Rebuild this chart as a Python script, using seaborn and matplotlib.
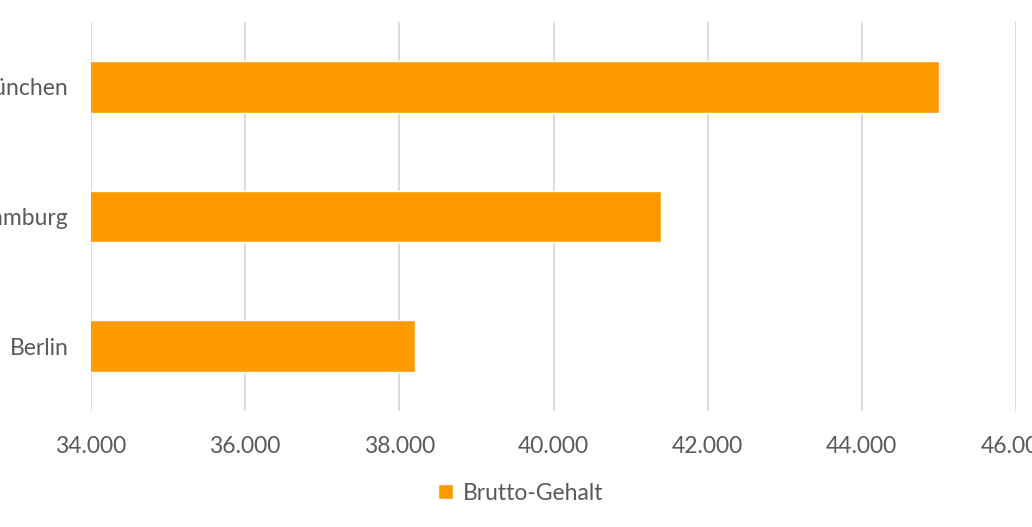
import matplotlib
matplotlib.use("Agg")
import matplotlib.pyplot as plt
import seaborn as sns
import pandas as pd
from matplotlib.ticker import FuncFormatter

cities = ["München", "Hamburg", "Berlin"]
gehalt = [45000, 41400, 38200]
series_name = "Brutto-Gehalt"

df = pd.DataFrame({"Stadt": cities, "Gehalt": gehalt})

sns.set_theme(style="white")
plt.rcParams["font.family"] = ["Lato", "DejaVu Sans"]

fig = plt.figure(figsize=(10.32, 5.27), dpi=100)
ax = fig.add_axes([91 / 1032, 116 / 527, (1016 - 91) / 1032, (411 - 22) / 527])

sns.barplot(data=df, x="Gehalt", y="Stadt", color="#FF9900", saturation=1,
            width=0.4, label=series_name, ax=ax, zorder=2)
if ax.get_legend() is not None:
    ax.get_legend().remove()

ax.set_xlim(34000, 46000)
ax.set_ylim(2.5, -0.5)
ax.set_xticks(range(34000, 46001, 2000))
ax.xaxis.set_major_formatter(FuncFormatter(lambda v, p: f"{int(v):,}".replace(",", ".")))
ax.grid(axis="x", color="#D9D9D9", linewidth=1.3, zorder=0)
ax.grid(axis="y", visible=False)
for s in ax.spines.values():
    s.set_visible(False)

ax.set_xlabel("")
ax.set_ylabel("")
ax.tick_params(axis="x", length=0, pad=18, labelsize=16.5, labelcolor="#595959")
ax.tick_params(axis="y", length=0, pad=16, labelsize=16.5, labelcolor="#595959")

handles, labels = ax.get_legend_handles_labels()
fig.legend(handles, labels, loc="center", bbox_to_anchor=(521 / 1032, 1 - 493 / 527),
           frameon=False, fontsize=16.5, labelcolor="#595959", handlelength=0.65,
           handleheight=0.65, handletextpad=0.45)

fig.savefig("out.png", dpi=100)
